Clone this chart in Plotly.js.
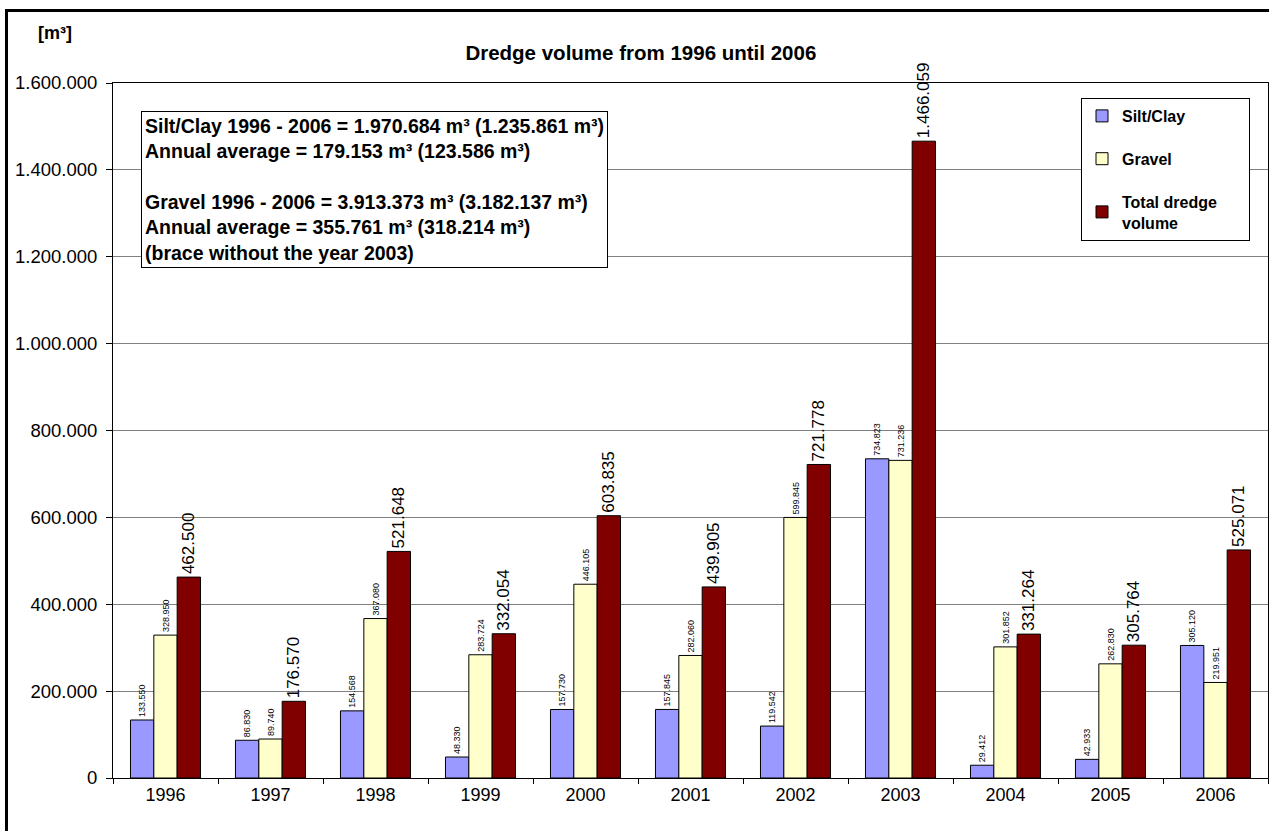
<!DOCTYPE html>
<html>
<head>
<meta charset="utf-8">
<script src="https://cdn.plot.ly/plotly-3.0.1.min.js"></script>
<style>
html,body{margin:0;padding:0;background:#fff;}
#chart{width:1269px;height:831px;}
</style>
</head>
<body>
<div id="chart"></div>
<script>
const years = ['1996','1997','1998','1999','2000','2001','2002','2003','2004','2005','2006'];
const siltClay = [133550, 86830, 154568, 48330, 157730, 157845, 119542, 734823, 29412, 42933, 305120];
const gravel = [328950, 89740, 367080, 283724, 446105, 282060, 599845, 731236, 301852, 262830, 219951];
const totalVolume = [462500, 176570, 521648, 332054, 603835, 439905, 721778, 1466059, 331264, 305764, 525071];
const yTicks = [0, 200000, 400000, 600000, 800000, 1000000, 1200000, 1400000, 1600000];
const seriesNames = ['Silt/Clay', 'Gravel', 'Total dredge<br>volume'];
const boxLines = [
  'Silt/Clay 1996 - 2006 = 1.970.684 m³ (1.235.861 m³)',
  'Annual average = 179.153 m³ (123.586 m³)',
  '',
  'Gravel 1996 - 2006 = 3.913.373 m³ (3.182.137 m³)',
  'Annual average = 355.761 m³ (318.214 m³)',
  '(brace without the year 2003)'
];

const FONT = 'Liberation Sans, Arial, sans-serif';
// widen the legend box to the reference width (invisible padding)
const PAD = '\u00A0'.repeat(6);
const legendNames = seriesNames.map((n, i) => i === 2 ? n.replace('<br>', PAD + '<br>') : n);

function barTrace(name, vals, color, fsize, grp) {
  return {
    type: 'bar', x: years, y: vals, name: name, legendgroup: grp,
    marker: {color: color, line: {color: '#000', width: 1}},
    texttemplate: '%{y:,.0f}', textposition: 'outside', textangle: -90,
    outsidetextfont: {family: FONT, size: fsize, color: '#000'},
    constraintext: 'none', cliponaxis: false, hoverinfo: 'x+y'
  };
}

const data = [
  barTrace(legendNames[0], siltClay, '#9999FF', 9, 'a'),
  barTrace(legendNames[1], gravel, '#FFFFCC', 9, 'b'),
  barTrace(legendNames[2], totalVolume, '#800000', 17, 'c')
];

const layout = {
  width: 1269, height: 831,
  margin: {l: 113, r: 1, t: 83, b: 53, pad: 0},
  paper_bgcolor: '#fff', plot_bgcolor: '#fff',
  separators: ',.',
  font: {family: FONT, size: 18, color: '#000'},
  barmode: 'group', bargap: 0.333, bargroupgap: 0,
  title: {
    text: 'Dredge volume from 1996 until 2006',
    font: {family: FONT, size: 20.5, color: '#000', weight: 'bold'},
    x: 0.505, xanchor: 'center', y: 1 - 53/831, yanchor: 'middle'
  },
  xaxis: {
    type: 'category', tickson: 'boundaries', ticks: 'outside', ticklen: 5,
    tickcolor: '#000', showline: true, linecolor: '#000', linewidth: 1, mirror: true,
    showgrid: false, tickfont: {family: FONT, size: 18, color: '#000'}
  },
  yaxis: {
    range: [0, 1600000], tickvals: yTicks, tickformat: ',.0f',
    ticks: 'outside', ticklen: 6, tickcolor: '#000', ticklabelstandoff: 5,
    showline: true, linecolor: '#000', linewidth: 1, mirror: true,
    showgrid: true, gridcolor: '#808080', gridwidth: 1, zeroline: false,
    tickfont: {family: FONT, size: 18.5, color: '#000'}
  },
  legend: {
    x: (1081-113)/1155, y: (778-98)/695, xanchor: 'left', yanchor: 'top',
    bgcolor: '#fff', bordercolor: '#000', borderwidth: 1,
    font: {family: FONT, size: 16, color: '#000', weight: 'bold'},
    traceorder: 'grouped', tracegroupgap: 19
  },
  annotations: [
    {
      text: boxLines.join('<br>'), xref: 'paper', yref: 'paper',
      x: (141-113)/1155, y: (778-111)/695, xanchor: 'left', yanchor: 'top',
      align: 'left', showarrow: false, bgcolor: '#fff', bordercolor: '#000',
      borderwidth: 1, borderpad: 3,
      font: {family: FONT, size: 19.5, color: '#000', weight: 'bold'}
    },
    {
      text: '[m³]', xref: 'paper', yref: 'paper',
      x: (55-113)/1155, y: (778-33)/695, xanchor: 'center', yanchor: 'middle',
      showarrow: false, font: {family: FONT, size: 18, color: '#000', weight: 'bold'}
    }
  ],
  shapes: [
    {type: 'rect', xref: 'paper', yref: 'paper', x0: (6.5-113)/1155, x1: 1.05,
     y0: -0.2, y1: (778-10.5)/695, line: {color: '#000', width: 3}, fillcolor: 'rgba(0,0,0,0)'}
  ],
  showlegend: true
};

Plotly.newPlot('chart', data, layout, {displayModeBar: false, staticPlot: true});
</script>
</body>
</html>
